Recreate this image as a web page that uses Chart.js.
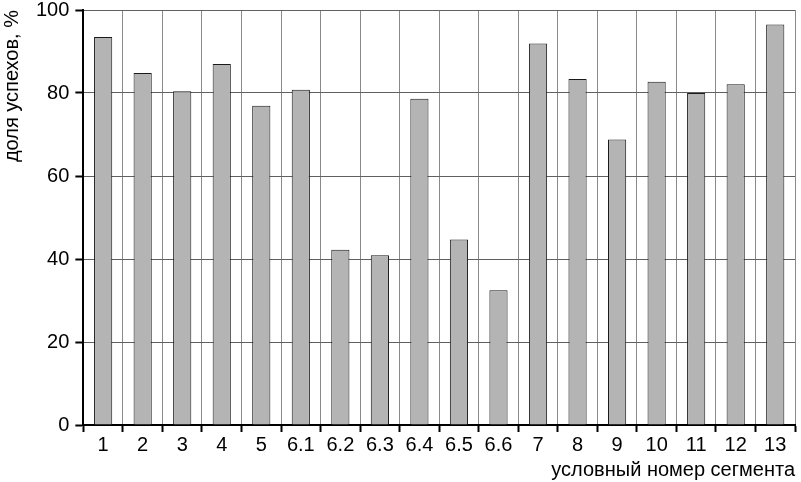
<!DOCTYPE html>
<html>
<head>
<meta charset="utf-8">
<script src="https://cdn.jsdelivr.net/npm/chart.js@4"></script>
<style>
  html, body { margin: 0; padding: 0; background: #fff; overflow: hidden; }
  #wrap { width: 801px; height: 482px; overflow: hidden; }
  #myChart { display: block; margin-top: -8px; }
</style>
</head>
<body>
<div id="wrap"><canvas id="myChart" width="801" height="492"></canvas></div>
<script>
// segment numbers and share of successes, %
const segments = ["1", "2", "3", "4", "5", "6.1", "6.2", "6.3", "6.4", "6.5", "6.6",
  "7", "8", "9", "10", "11", "12", "13"];
const successShare = [93.5, 84.8, 80.4, 87, 76.9, 80.8, 42.2, 40.9, 78.6, 44.7, 32.5,
  91.9, 83.4, 68.8, 82.7, 80, 82.1, 96.5];
const yTicks = [0, 20, 40, 60, 80, 100];

const font = { family: "Liberation Sans, Arial, sans-serif", size: 20 };

const ctx = document.getElementById("myChart");
new Chart(ctx, {
  type: "bar",
  data: {
    labels: segments,
    datasets: [
      {
        data: successShare,
        backgroundColor: "#b4b4b4",
        borderColor: "#1a1a1a",
        borderWidth: 1,
        borderSkipped: "bottom",
        categoryPercentage: 1,
        barPercentage: 0.46,
      },
    ],
  },
  options: {
    responsive: false,
    animation: false,
    layout: { padding: { top: 0, right: 6, left: 0, bottom: 2 } },
    plugins: {
      legend: { display: false },
      tooltip: { enabled: false },
    },
    scales: {
      x: {
        grid: {
          offset: true,
          color: "#8a8a8a",
          lineWidth: 1,
          drawTicks: true,
          tickLength: 7,
          tickColor: "#000",
          tickWidth: 2,
        },
        border: { color: "#000", width: 2 },
        ticks: { color: "#000", font: font, padding: 1, maxRotation: 0, autoSkip: false },
        title: {
          display: true,
          text: "условный номер сегмента",
          align: "end",
          color: "#000",
          font: font,
          padding: { top: 0, bottom: 0 },
        },
      },
      y: {
        min: 0,
        max: 100,
        afterBuildTicks: (axis) => {
          axis.ticks = yTicks.map((v) => ({ value: v }));
        },
        grid: {
          color: "#606060",
          lineWidth: 1,
          tickLength: 8,
          tickColor: "#000",
          tickWidth: 2,
        },
        border: { color: "#000", width: 2 },
        ticks: { color: "#000", font: font, padding: 6 },
        title: {
          display: true,
          text: "доля успехов, %",
          align: "end",
          color: "#000",
          font: font,
          padding: { top: 0, bottom: 6 },
        },
      },
    },
  },
});
</script>
</body>
</html>
